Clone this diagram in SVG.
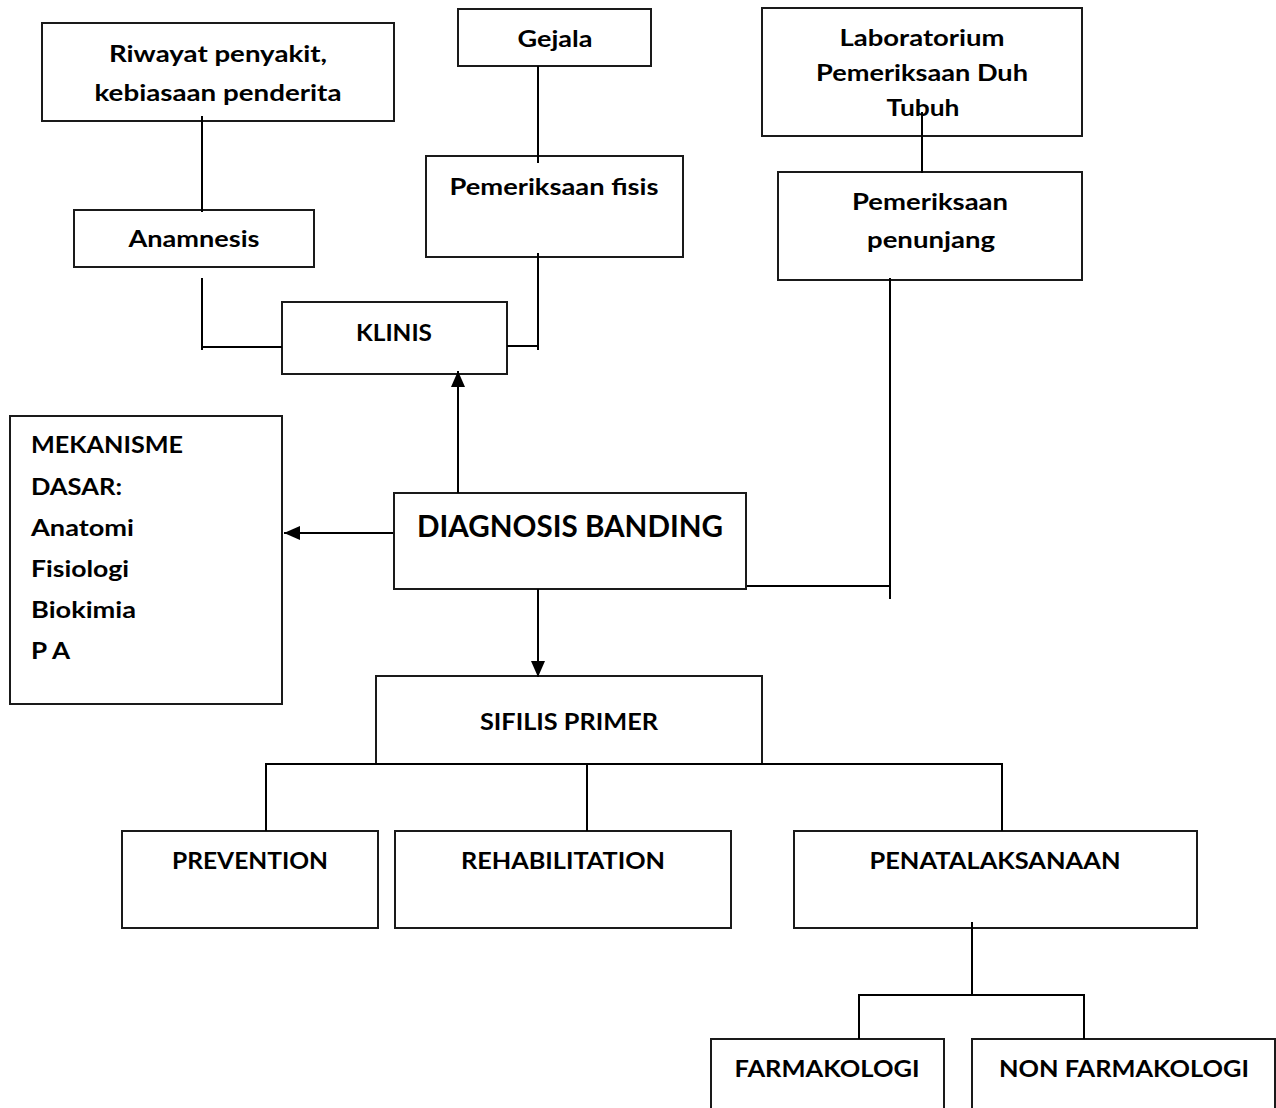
<svg xmlns="http://www.w3.org/2000/svg" width="1276" height="1108" viewBox="0 0 1276 1108">
<defs>
<style>
.box{fill:#fff;stroke:#1a1a1a;stroke-width:2}
.t{font-family:Lato,"Liberation Sans",sans-serif;font-weight:bold;font-size:23.7px;fill:#000;text-anchor:middle}
.l{text-anchor:start}
.big{font-size:30.5px}
.c{fill:none;stroke:#000;stroke-width:2}
</style>
<marker id="ah" markerUnits="userSpaceOnUse" markerWidth="16" markerHeight="16" viewBox="0 0 16 16" refX="16" refY="8" orient="auto">
<path d="M0,1 L16,8 L0,15 Z" fill="#000"/>
</marker>
</defs>
<rect width="1276" height="1108" fill="#fff"/>

<g id="riwayat"><rect class="box" x="42" y="23" width="352" height="98"/>
<text class="t" x="218" y="62" textLength="218" lengthAdjust="spacingAndGlyphs">Riwayat penyakit,</text>
<text class="t" x="218" y="101" textLength="247" lengthAdjust="spacingAndGlyphs">kebiasaan penderita</text></g>

<g id="anamnesis"><rect class="box" x="74" y="210" width="240" height="57"/>
<text class="t" x="194" y="247" textLength="131" lengthAdjust="spacingAndGlyphs">Anamnesis</text></g>

<g id="gejala"><rect class="box" x="458" y="9" width="193" height="57"/>
<text class="t" x="555" y="47" textLength="75" lengthAdjust="spacingAndGlyphs">Gejala</text></g>

<g id="fisis"><rect class="box" x="426" y="156" width="257" height="101"/>
<text class="t" x="554" y="195" textLength="209" lengthAdjust="spacingAndGlyphs">Pemeriksaan fisis</text></g>

<g id="lab"><rect class="box" x="762" y="8" width="320" height="128"/>
<text class="t" x="922" y="46" textLength="165" lengthAdjust="spacingAndGlyphs">Laboratorium</text>
<text class="t" x="922" y="81" textLength="212" lengthAdjust="spacingAndGlyphs">Pemeriksaan Duh</text>
<text class="t" x="923" y="116" textLength="73" lengthAdjust="spacingAndGlyphs">Tubuh</text></g>

<g id="penunjang"><rect class="box" x="778" y="172" width="304" height="108"/>
<text class="t" x="930" y="210" textLength="156" lengthAdjust="spacingAndGlyphs">Pemeriksaan</text>
<text class="t" x="931" y="248" textLength="128" lengthAdjust="spacingAndGlyphs">penunjang</text></g>

<g id="klinis"><rect class="box" x="282" y="302" width="225" height="72"/>
<text class="t" x="394" y="341" textLength="76" lengthAdjust="spacingAndGlyphs">KLINIS</text></g>

<g id="mekanisme"><rect class="box" x="10" y="416" width="272" height="288"/>
<text class="t l" x="31" y="453" textLength="152" lengthAdjust="spacingAndGlyphs">MEKANISME</text>
<text class="t l" x="31" y="495" textLength="91" lengthAdjust="spacingAndGlyphs">DASAR:</text>
<text class="t l" x="31" y="536" textLength="103" lengthAdjust="spacingAndGlyphs">Anatomi</text>
<text class="t l" x="31" y="577" textLength="98" lengthAdjust="spacingAndGlyphs">Fisiologi</text>
<text class="t l" x="31" y="618" textLength="105" lengthAdjust="spacingAndGlyphs">Biokimia</text>
<text class="t l" x="31" y="659" textLength="39" lengthAdjust="spacingAndGlyphs">P A</text></g>

<g id="diagnosis"><rect class="box" x="394" y="493" width="352" height="96"/>
<text class="t big" x="570" y="537" textLength="306" lengthAdjust="spacingAndGlyphs">DIAGNOSIS BANDING</text></g>

<g id="sifilis"><rect class="box" x="376" y="676" width="386" height="88"/>
<text class="t" x="569" y="730" textLength="178" lengthAdjust="spacingAndGlyphs">SIFILIS PRIMER</text></g>

<g id="prevention"><rect class="box" x="122" y="831" width="256" height="97"/>
<text class="t" x="250" y="869" textLength="156" lengthAdjust="spacingAndGlyphs">PREVENTION</text></g>

<g id="rehabilitation"><rect class="box" x="395" y="831" width="336" height="97"/>
<text class="t" x="563" y="869" textLength="204" lengthAdjust="spacingAndGlyphs">REHABILITATION</text></g>

<g id="penatalaksanaan"><rect class="box" x="794" y="831" width="403" height="97"/>
<text class="t" x="995" y="869" textLength="251" lengthAdjust="spacingAndGlyphs">PENATALAKSANAAN</text></g>

<g id="farmakologi"><rect class="box" x="711" y="1039" width="233" height="80"/>
<text class="t" x="827" y="1077" textLength="185" lengthAdjust="spacingAndGlyphs">FARMAKOLOGI</text></g>

<g id="nonfarmakologi"><rect class="box" x="972" y="1039" width="303" height="80"/>
<text class="t" x="1124" y="1077" textLength="250" lengthAdjust="spacingAndGlyphs">NON FARMAKOLOGI</text></g>

<g id="connectors">
<path class="c" d="M202,116 V212"/>
<path class="c" d="M202,278 V350 M202,347 H282"/>
<path class="c" d="M538,66 V163"/>
<path class="c" d="M538,253 V350 M507,346 H538"/>
<path class="c" d="M922,112 V173"/>
<path class="c" d="M890,278 V599 M747,586 H890"/>
<path class="c" d="M458,493 V371" marker-end="url(#ah)"/>
<path class="c" d="M393,533 H284" marker-end="url(#ah)"/>
<path class="c" d="M538,589 V677" marker-end="url(#ah)"/>
<path class="c" d="M266,831 V764 H1002 V831 M587,764 V831"/>
<path class="c" d="M972,922 V995 M859,1039 V995 H1084 V1039"/>
</g>
</svg>
